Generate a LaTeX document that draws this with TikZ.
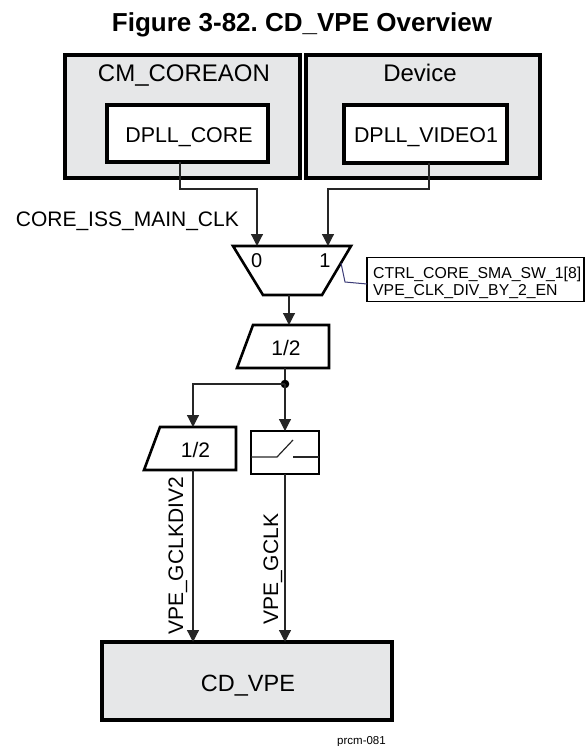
\documentclass[tikz,border=0pt]{standalone}
\usepackage{fontspec}
\setmainfont{Liberation Sans}
\usetikzlibrary{arrows.meta}
\definecolor{boxgray}{HTML}{E6E7E8}
\definecolor{ctrlblue}{HTML}{3C3C78}
\newcommand{\myfs}[1]{\fontsize{#1}{#1}\selectfont}
\frenchspacing
\begin{document}
\begin{tikzpicture}[x=1pt,y=-1pt,
  outerbox/.style={draw=black, line width=3.5pt, fill=boxgray, inner sep=0pt, outer sep=0pt},
  innerbox/.style={draw=black, line width=3.5pt, fill=white, inner sep=0pt, outer sep=0pt},
  conn/.style={draw=black!85, line width=1.2pt},
  arr/.style={conn, -{Triangle[width=12pt,length=12pt]}},
  thickshape/.style={draw=black, line width=2.6pt, line join=miter},
  lbl/.style={inner sep=0pt, font=\myfs{21}, anchor=base},
]
\useasboundingbox (0,0) rectangle (585,746);

\node[lbl, font=\bfseries\myfs{26}] (title) at (302,31.7) {Figure 3-82. CD\_VPE Overview};

% top clock sources
\node[outerbox, minimum width=235pt, minimum height=123pt] (coreaon) at (182.5,116.5) {};
\node[lbl, font=\myfs{24}] (coreaontxt) at (184,81.7) {CM\_COREAON};
\node[outerbox, minimum width=234pt, minimum height=123pt] (device) at (423,116.5) {};
\node[lbl, font=\myfs{24}] (devicetxt) at (420,81.7) {Device};
\node[innerbox, minimum width=161pt, minimum height=57pt] (dcore) at (187.5,133.5) {};
\node[lbl, font=\myfs{21.4}] (dcoretxt) at (189,142.7) {DPLL\_CORE};
\node[innerbox, minimum width=163pt, minimum height=58pt] (dvideo) at (425.5,134) {};
\node[lbl, font=\myfs{21.4}] (dvideotxt) at (426,142.7) {DPLL\_VIDEO1};

% mux
\coordinate (muxTL) at (233,246);
\coordinate (muxTR) at (351,246);
\coordinate (muxBR) at (322,295);
\coordinate (muxBL) at (263,295);
\draw[thickshape] (muxTL) -- (muxTR) -- (muxBR) -- (muxBL) -- cycle;
\coordinate (mux0) at (257,246);
\coordinate (mux1) at (328,246);
\coordinate (muxout) at (289,295);
\node[lbl, font=\myfs{20}] (in0) at (256.7,267.3) {0};
\node[lbl, font=\myfs{20}] (in1) at (325,267.3) {1};

\draw[arr] ([xshift=-7.5pt]dcore.south) -- ++(0,27) -| (mux0);
\draw[arr] ([xshift=3.5pt]dvideo.south) -- ++(0,26) -| (mux1);
\node[lbl, font=\myfs{21}, anchor=base east] (coreclk) at (239,226.7) {CORE\_ISS\_MAIN\_CLK};

% control register
\node[draw, line width=1.2pt, inner sep=0pt, outer sep=0pt,
      minimum width=217pt, minimum height=44.4pt] (ctrl) at (475.5,279.5) {};
\node[lbl, font=\myfs{15.8}, anchor=base west] (ctrlA) at (373,278.3) {CTRL\_CORE\_SMA\_SW\_1[8]};
\node[lbl, font=\myfs{15.8}, anchor=base west] (ctrlB) at (373,295) {VPE\_CLK\_DIV\_BY\_2\_EN};
\coordinate (ctrlsrc) at (341,263);
\coordinate (ctrlbend) at (345,282);
\draw[draw=ctrlblue, line width=1pt] (ctrlsrc) -- (ctrlbend) -- ([yshift=-4.5pt]ctrl.west);

% first divider
\draw[thickshape] (253,325) -- (329,325) -- (329,368) -- (237,368) -- cycle;
\node[lbl, font=\myfs{21}] (div1) at (286,355) {1/2};
\coordinate (div1top) at (289,325);
\draw[arr] (muxout) -- (div1top);
\coordinate (div1bot) at (285,368);
\coordinate (split) at (285,384);
\draw[conn] (div1bot) -- (split);
\fill (split) circle (4.3pt);

% second divider
\draw[thickshape] (160,427) -- (236,427) -- (236,470) -- (144,470) -- cycle;
\node[lbl, font=\myfs{21}] (div2) at (195.5,457.3) {1/2};
\coordinate (div2top) at (193,427);
\coordinate (div2bot) at (193,470);
\draw[arr] (split) -| (div2top);

% clock gate
\node[draw, line width=1.2pt, minimum width=68pt, minimum height=43pt, inner sep=0pt, outer sep=0pt] (gate) at (285,452.5) {};
\draw[conn] ([yshift=-4.5pt]gate.west) -- ++(26,0) -- ++(16,-17);
\draw[conn] ([yshift=-4.5pt]gate.east) -- ++(-26,0);
\draw[arr] (split) -- (gate.north);

% destination
\node[outerbox, minimum width=290pt, minimum height=78pt] (cdvpe) at (247,681) {};
\node[lbl, font=\myfs{23.5}] (cdvpetxt) at (248,691.7) {CD\_VPE};
\draw[arr] (div2bot) -- (div2bot |- cdvpe.north);
\draw[arr] (gate.south) -- (gate.south |- cdvpe.north);

\node[lbl, rotate=90, anchor=base west] (lblA) at (183,635) {VPE\_GCLKDIV2};
\node[lbl, rotate=90, anchor=base west] (lblB) at (278,625) {VPE\_GCLK};

\node[lbl, font=\myfs{11.5}, anchor=base west] (prcm) at (337,744) {prcm-081};
\end{tikzpicture}
\end{document}
